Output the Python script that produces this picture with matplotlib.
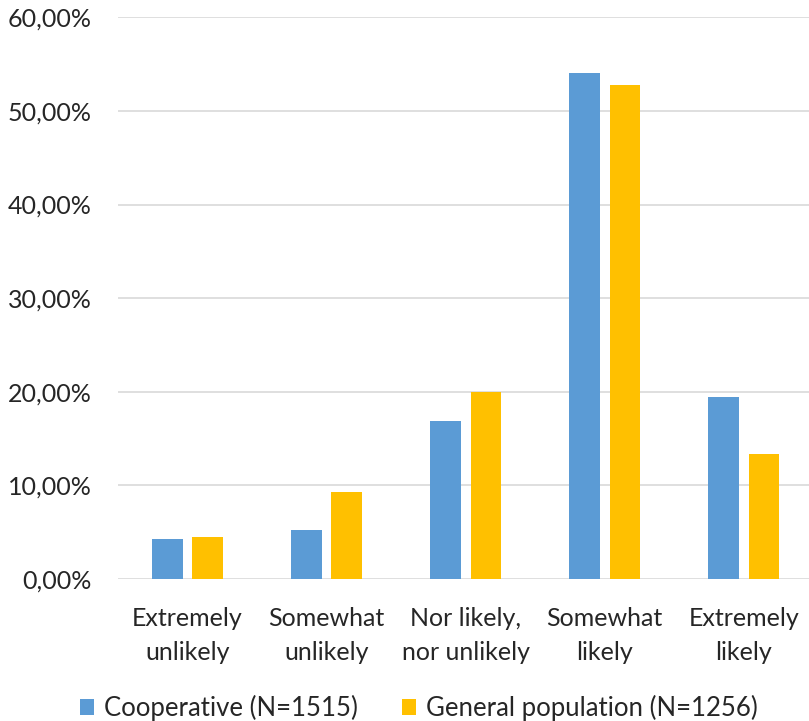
import matplotlib.pyplot as plt
import numpy as np
from matplotlib.ticker import FuncFormatter

categories = ["Extremely\nunlikely", "Somewhat\nunlikely", "Nor likely,\nnor unlikely",
              "Somewhat\nlikely", "Extremely\nlikely"]
cooperative = [4.25, 5.25, 16.9, 54.0, 19.4]
general = [4.5, 9.25, 19.95, 52.8, 13.3]

plt.rcParams['font.family'] = ['Lato', 'DejaVu Sans']

fig = plt.figure(figsize=(8.09, 7.21), dpi=100)
ax = fig.add_axes([0.146, 0.197, 0.854, 0.779])

x = np.arange(len(categories))
w = 0.22
ax.bar(x - 0.145, cooperative, w, color="#5b9bd5", label="Cooperative (N=1515)", zorder=3)
ax.bar(x + 0.145, general, w, color="#ffc000", label="General population (N=1256)", zorder=3)

ax.set_ylim(0, 60)
ax.set_xlim(-0.5, 4.47)
ax.set_yticks(np.arange(0, 61, 10))
ax.yaxis.set_major_formatter(FuncFormatter(lambda v, p: f"{v:.2f}%".replace(".", ",")))
ax.set_xticks(x)
ax.set_xticklabels(categories, fontsize=18, color="#262626", linespacing=1.6)
ax.tick_params(axis="y", labelsize=18, labelcolor="#262626", length=0, pad=19)
ax.tick_params(axis="x", length=0, pad=20)
ax.grid(axis="y", color="#d9d9d9", linewidth=1.2, zorder=0)
for s in ax.spines.values():
    s.set_visible(False)

fig.legend(loc="center left", bbox_to_anchor=(0.083, 0.018), ncol=2, frameon=False,
           fontsize=18.5, handlelength=0.55, handleheight=0.55, handletextpad=0.4,
           columnspacing=1.7, labelcolor="#262626", borderpad=0)

plt.savefig("out.png", dpi=100)
